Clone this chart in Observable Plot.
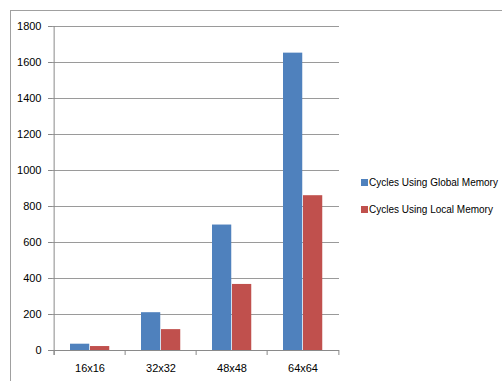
<!DOCTYPE html>
<html><head><meta charset="utf-8">
<script src="https://cdn.jsdelivr.net/npm/d3@7"></script>
<script src="https://cdn.jsdelivr.net/npm/@observablehq/plot@0.6"></script>
<style>
body{margin:0;background:#fff;}
#wrap{position:relative;width:502px;height:381px;overflow:hidden;font-family:"Liberation Sans",Arial,sans-serif;background:#fff;}
#wrap svg{position:absolute;left:0;top:0;}
#border{position:absolute;left:10px;top:10px;width:700px;height:700px;border-top:1px solid #a0a0a0;border-left:1px solid #a0a0a0;}
.leg{position:absolute;left:361px;font-size:10px;color:#000;white-space:nowrap;line-height:12px;}
.leg i{display:inline-block;width:7px;height:7px;margin-right:1px;vertical-align:-0px;}
</style>
</head><body>
<div id="wrap"><div id="border"></div></div>
<script>
const categories = ["16x16", "32x32", "48x48", "64x64"];
const seriesNames = ["Cycles Using Global Memory", "Cycles Using Local Memory"];
const globalCycles = [35, 210, 697, 1652];
const localCycles = [22, 116, 367, 860];
const yTicks = [0, 200, 400, 600, 800, 1000, 1200, 1400, 1600, 1800];
const colors = ["#4F81BD", "#C0504D"];

const globalData = categories.map((c, i) => ({category: c, value: globalCycles[i]}));
const localData = categories.map((c, i) => ({category: c, value: localCycles[i]}));

const mL = 52, mR = 163, W = 502;
const bw = (W - mL - mR) / categories.length;

const chart = Plot.plot({
  width: W, height: 381,
  marginLeft: mL, marginRight: mR, marginTop: 26, marginBottom: 31,
  style: {fontFamily: '"Liberation Sans", Arial, sans-serif', fontSize: "11px", color: "#000", background: "transparent"},
  x: {domain: categories, padding: 0, axis: null},
  y: {domain: [0, 1800], axis: null},
  marks: [
    Plot.gridY(yTicks, {stroke: "#9a9a9a", strokeOpacity: 1}),
    Plot.axisY(yTicks, {tickSize: 4, tickPadding: 7, stroke: "#8a8a8a", fill: "#000", fontSize: 11, label: null, tickFormat: (d) => String(d)}),
    Plot.barY(globalData, {x: "category", y: "value", fill: colors[0], insetLeft: 16, insetRight: bw - 36}),
    Plot.barY(localData, {x: "category", y: "value", fill: colors[1], insetLeft: 36, insetRight: bw - 56}),
    Plot.ruleX([categories[0]], {y1: 1800, y2: 0, dx: -bw / 2, stroke: "#8a8a8a", insetBottom: -5}),
    Plot.ruleX(categories, {y1: 0, y2: 0, dx: -bw / 2, stroke: "#8a8a8a", insetBottom: -5}),
    Plot.ruleX([categories[categories.length - 1]], {y1: 0, y2: 0, dx: bw / 2, stroke: "#8a8a8a", insetBottom: -5}),
    Plot.ruleY([0], {stroke: "#8a8a8a"}),
    Plot.axisX(categories, {tickSize: 0, tickPadding: 14, fill: "#000", fontSize: 11, label: null})
  ]
});
const wrap = document.getElementById("wrap");
wrap.appendChild(chart);

const legTops = [177, 204];
seriesNames.forEach((name, i) => {
  const d = document.createElement("div");
  d.className = "leg";
  d.style.top = legTops[i] + "px";
  const sw = document.createElement("i");
  sw.style.background = colors[i];
  d.appendChild(sw);
  d.appendChild(document.createTextNode(name));
  wrap.appendChild(d);
});
</script>
</body></html>
